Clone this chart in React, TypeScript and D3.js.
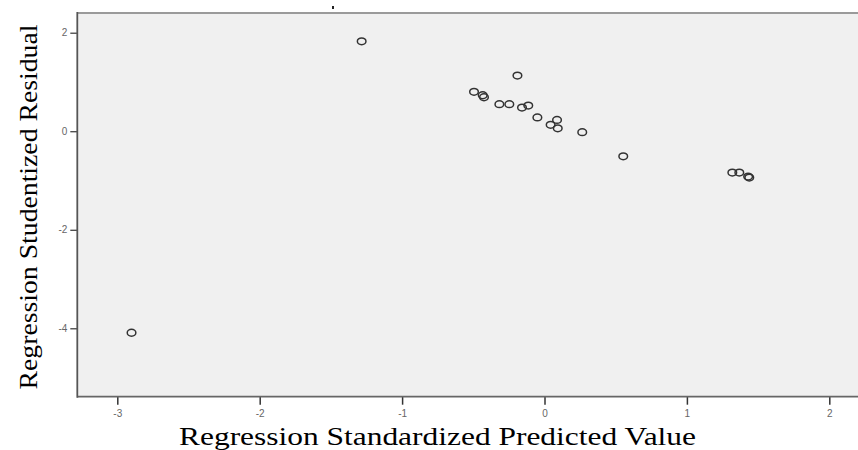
import { useEffect, useRef } from 'react';
import * as d3 from 'd3';

// standardized predicted value (x) and studentized residual (y)
const predicted = [-2.9, -1.284, -0.19, -0.495, -0.434, -0.425, -0.317, -0.247, -0.158, -0.114, -0.05, 0.043, 0.088, 0.093, 0.265, 0.553, 1.319, 1.368, 1.43, 1.438];
const residual = [-4.09, 1.825, 1.13, 0.8, 0.73, 0.69, 0.55, 0.55, 0.48, 0.52, 0.28, 0.13, 0.23, 0.06, -0.02, -0.51, -0.84, -0.84, -0.92, -0.94];
const xTicks = [-3, -2, -1, 0, 1, 2];
const yTicks = [2, 0, -2, -4];
const xTitle = 'Regression Standardized Predicted Value';
const yTitle = 'Regression Studentized Residual';

const W = 858;
const H = 450;

export default function App() {
  const ref = useRef<SVGSVGElement | null>(null);
  useEffect(() => {
    const svg = d3.select(ref.current!);
    svg.selectAll('*').remove();
    const left = 77.3, top = 13, bottom = 396.7;
    const x = d3.scaleLinear().domain([-3, 2]).range([117.3, 829.3]);
    const y = d3.scaleLinear().domain([2, -4]).range([32.7, 328.3]);
    const fmt = (d: d3.NumberValue) => String(Number(d));

    svg.append('rect').attr('width', W).attr('height', H).attr('fill', '#fff');
    svg.append('rect').attr('x', left).attr('y', top).attr('width', W - left).attr('height', bottom - top).attr('fill', '#f0f0f0');
    svg.append('line').attr('x1', left).attr('x2', W).attr('y1', top).attr('y2', top).attr('stroke', '#9a9a9a').attr('stroke-width', 2);
    svg.append('rect').attr('x', 332).attr('y', 6).attr('width', 2).attr('height', 3).attr('fill', '#222');

    const font = 'Arial, Liberation Sans, sans-serif';

    const gx = svg.append('g').attr('transform', `translate(0,${bottom})`)
      .call(d3.axisBottom(x).tickValues(xTicks).tickSize(8).tickPadding(5).tickSizeOuter(0).tickFormat(fmt));
    gx.select('.domain').remove();
    gx.selectAll('.tick line').attr('stroke', '#333').attr('stroke-width', 1.5);
    gx.selectAll('.tick text').attr('font-family', font).attr('font-size', 10).attr('fill', '#666');
    svg.append('line').attr('x1', left).attr('x2', W).attr('y1', bottom).attr('y2', bottom).attr('stroke', '#666').attr('stroke-width', 1.8);

    const gy = svg.append('g').attr('transform', `translate(${left},0)`)
      .call(d3.axisLeft(y).tickValues(yTicks).tickSize(7).tickPadding(3).tickFormat(fmt));
    gy.select('.domain').remove();
    gy.selectAll('.tick line').attr('stroke', '#333').attr('stroke-width', 1.2);
    gy.selectAll('.tick text').attr('font-family', font).attr('font-size', 10).attr('fill', '#666');
    svg.append('line').attr('x1', left).attr('x2', left).attr('y1', top - 1).attr('y2', bottom + 1).attr('stroke', '#555').attr('stroke-width', 1.8);

    const pts = predicted.map((p, i) => ({ p, r: residual[i] }));
    svg.append('g').selectAll('ellipse').data(pts).enter().append('ellipse')
      .attr('cx', (d) => x(d.p)).attr('cy', (d) => y(d.r)).attr('rx', 4.3).attr('ry', 3.4)
      .attr('fill', 'none').attr('stroke', '#333').attr('stroke-width', 1.5);

    svg.append('text').attr('x', 437.5).attr('y', 445).attr('text-anchor', 'middle')
      .attr('font-family', 'Liberation Serif, DejaVu Serif, serif').attr('font-size', 25).attr('fill', '#000')
      .attr('textLength', 517).attr('lengthAdjust', 'spacingAndGlyphs').text(xTitle);
    svg.append('text').attr('transform', 'translate(37,207) rotate(-90)').attr('text-anchor', 'middle')
      .attr('font-family', 'Liberation Serif, DejaVu Serif, serif').attr('font-size', 26).attr('fill', '#000')
      .attr('textLength', 365).attr('lengthAdjust', 'spacingAndGlyphs').text(yTitle);
  }, []);
  return (
    <div style={{ position: 'fixed', left: 0, top: 0 }}>
      <svg ref={ref} width={W} height={H} style={{ display: 'block' }} />
    </div>
  );
}
